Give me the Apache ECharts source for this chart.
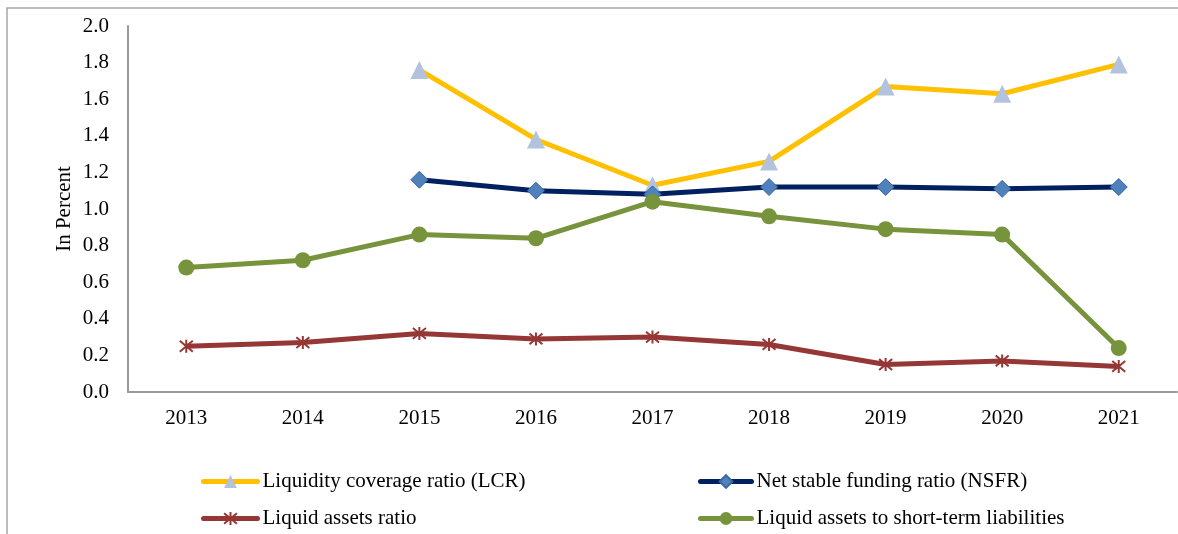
<!DOCTYPE html>
<html>
<head>
<meta charset="utf-8">
<script src="https://cdn.jsdelivr.net/npm/echarts@6/dist/echarts.min.js"></script>
<style>
  html, body { margin: 0; padding: 0; background: #fff; }
  #chart { width: 1178px; height: 534px; }
</style>
</head>
<body>
<div id="chart"></div>
<script>
// Data
const years = ['2013', '2014', '2015', '2016', '2017', '2018', '2019', '2020', '2021'];
const lcr = [null, null, 1.76, 1.38, 1.13, 1.26, 1.67, 1.63, 1.79];
const nsfr = [null, null, 1.16, 1.10, 1.08, 1.12, 1.12, 1.11, 1.12];
const liquidRatio = [0.25, 0.27, 0.32, 0.29, 0.30, 0.26, 0.15, 0.17, 0.14];
const liquidToShort = [0.68, 0.72, 0.86, 0.84, 1.04, 0.96, 0.89, 0.86, 0.24];

const FONT = '"Liberation Serif", "Times New Roman", serif';
const FS = 21;
const starPath = 'path://M0,0 L10,10 M10,0 L0,10 M5,-1 L5,11';

const chart = echarts.init(document.getElementById('chart'));

// one legend per entry, placed like the 2x2 legend in the reference
function legendAt(name, left, top, width) {
  return {
    left: left, top: top,
    padding: 0,
    itemWidth: width, itemHeight: 16,
    itemGap: 0,
    lineStyle: { width: 5, cap: 'round' },
    textStyle: { fontFamily: FONT, fontSize: FS, color: '#000' },
    data: [name]
  };
}

const option = {
  animation: false,
  textStyle: { fontFamily: FONT, color: '#000' },
  graphic: [{
    type: 'rect',
    shape: { x: 7, y: 8, width: 1300, height: 700 },
    style: { fill: 'none', stroke: '#a6a6a6', lineWidth: 1.5 },
    silent: true
  }],
  grid: { left: 128, right: 1, top: 26, bottom: 142 },
  legend: [
    legendAt('Liquidity coverage ratio (LCR)', 201, 471, 54),
    legendAt('Liquid assets ratio', 201, 508, 54),
    legendAt('Net stable funding ratio (NSFR)', 698, 471, 51),
    legendAt('Liquid assets to short-term liabilities', 698, 508, 51)
  ],
  xAxis: {
    type: 'category',
    data: years,
    boundaryGap: true,
    axisLine: { lineStyle: { color: '#999', width: 2 } },
    axisTick: { show: false },
    axisLabel: { fontFamily: FONT, fontSize: FS, color: '#000', margin: 16 }
  },
  yAxis: {
    type: 'value',
    min: 0, max: 2, interval: 0.2,
    name: 'In Percent',
    nameLocation: 'middle',
    nameMoveOverlap: false,
    nameGap: 53,
    nameTextStyle: { fontFamily: FONT, fontSize: FS, color: '#000' },
    axisLine: { show: true, lineStyle: { color: '#999', width: 2 } },
    axisTick: { show: false },
    splitLine: { show: false },
    axisLabel: {
      fontFamily: FONT, fontSize: FS, color: '#000', margin: 19,
      formatter: v => v.toFixed(1)
    }
  },
  series: [{
    name: 'Liquidity coverage ratio (LCR)',
    type: 'line',
    data: lcr,
    symbol: 'triangle',
    symbolSize: 18,
    lineStyle: { color: '#ffc000', width: 5 },
    itemStyle: { color: '#b4c3dd' },
    z: 3
  }, {
    name: 'Net stable funding ratio (NSFR)',
    type: 'line',
    data: nsfr,
    symbol: 'diamond',
    symbolSize: 17,
    lineStyle: { color: '#002060', width: 5 },
    itemStyle: { color: '#4f81bd', borderColor: '#3a679e', borderWidth: 1 },
    z: 4
  }, {
    name: 'Liquid assets ratio',
    type: 'line',
    data: liquidRatio,
    symbol: starPath,
    symbolSize: 13,
    lineStyle: { color: '#953735', width: 5 },
    itemStyle: { color: 'transparent', borderColor: '#953735', borderWidth: 2 },
    z: 2
  }, {
    name: 'Liquid assets to short-term liabilities',
    type: 'line',
    data: liquidToShort,
    symbol: 'circle',
    symbolSize: 16,
    lineStyle: { color: '#77933c', width: 5 },
    itemStyle: { color: '#77933c' },
    z: 5
  }]
};

chart.setOption(option);
window.addEventListener('resize', () => chart.resize());
</script>
</body>
</html>
